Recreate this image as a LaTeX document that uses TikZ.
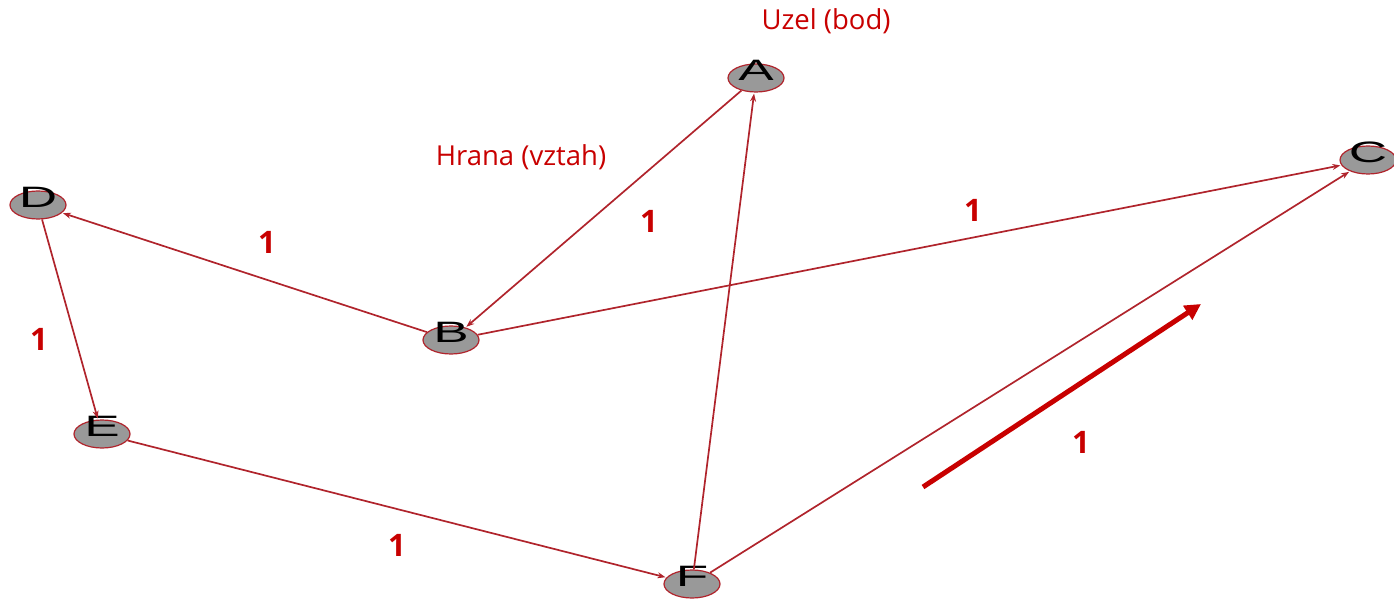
\documentclass[tikz,border=0pt]{standalone}
\usepackage{fontspec}
\usepackage{graphicx}
\setmainfont{Open Sans}
\newfontfamily\letterfont{Liberation Sans}
\usetikzlibrary{shapes.geometric,arrows.meta}

\definecolor{edgered}{RGB}{176,36,44}
\definecolor{labelred}{RGB}{200,0,0}
\definecolor{nodegray}{RGB}{153,153,153}

\tikzset{
	vertex/.style={ellipse, draw=edgered, line width=1.2pt, fill=nodegray,
		minimum width=56pt, minimum height=28pt, inner sep=0pt},
	link/.style={draw=edgered, line width=1.7pt, -{Stealth[length=8pt,width=6pt]}, shorten >=1pt},
	weight/.style={text=labelred, font=\fontsize{31}{31}\selectfont\bfseries},
	caption/.style={text=labelred, font=\fontsize{27.5}{27.5}\selectfont},
}
\newcommand{\vlabel}[1]{\makebox[0pt]{\raisebox{-5pt}{\smash{\letterfont\fontsize{29.5}{29.5}\selectfont\scalebox{1.8}[1]{#1}}}}}

\begin{document}
\begin{tikzpicture}[x=1pt,y=-1pt]
	\useasboundingbox (0,0) rectangle (1394,601);

	% uzly
	\node[vertex] (A) at (756,78) {\vlabel{A}};
	\node[vertex] (B) at (451,340) {\vlabel{B}};
	\node[vertex] (C) at (1368,160) {\vlabel{C}};
	\node[vertex] (D) at (38,205) {\vlabel{D}};
	\node[vertex] (E) at (102,434) {\vlabel{E}};
	\node[vertex] (F) at (692,584) {\vlabel{F}};

	% hrany
	\draw[link] (A) -- (B);
	\draw[link] (F) -- (A);
	\draw[link] (B) -- (D);
	\draw[link] (B) -- (C);
	\draw[link] (D) -- (E);
	\draw[link] (E) -- (F);
	\draw[link] (F) -- (C);

	% vahy
	\node[weight] (wBD) at (267,242) {1};
	\node[weight] (wAB) at (649,221) {1};
	\node[weight] (wBC) at (973,210) {1};
	\node[weight] (wDE) at (39,339) {1};
	\node[weight] (wEF) at (397,545) {1};
	\node[weight] (wFC) at (1081,442) {1};

	% popisky
	\node[caption] (uzel) at (826,21) {Uzel (bod)};
	\node[caption] (hrana) at (521,157) {Hrana (vztah)};

	% smer
	\coordinate (s) at (923,487);
	\coordinate (t) at (1201,304);
	\draw[labelred, line width=5pt, -{Triangle[length=16pt,width=16pt]}] (s) -- (t);
\end{tikzpicture}
\end{document}
